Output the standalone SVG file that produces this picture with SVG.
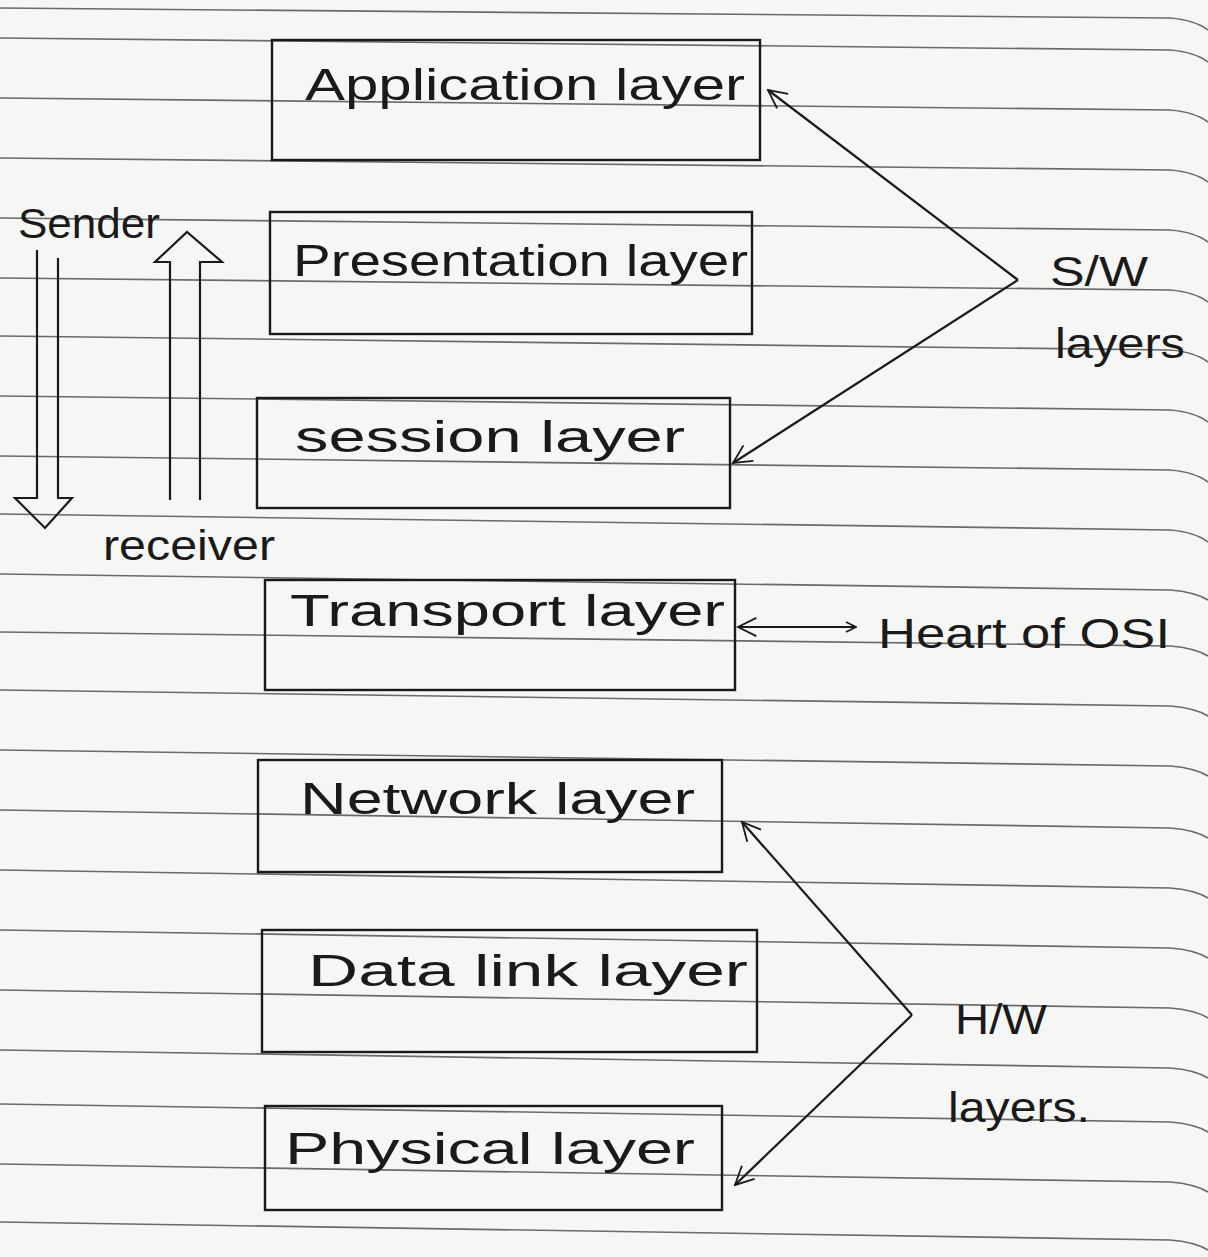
<svg xmlns="http://www.w3.org/2000/svg" width="1208" height="1257" viewBox="0 0 1208 1257">
<style>
.rule{fill:none;stroke:#6a6a6a;stroke-width:1.6}
.box{fill:none;stroke:#1a1a1a;stroke-width:2.4}
.lbl{font-family:"Liberation Sans",Arial,sans-serif;font-size:44px;fill:#1a1a1a}
.note{font-family:"Liberation Sans",Arial,sans-serif;font-size:42px;fill:#1a1a1a}
.conn{fill:none;stroke:#1a1a1a;stroke-width:2.2}
.big{fill:none;stroke:#1a1a1a;stroke-width:2.2;stroke-linejoin:miter}
</style>
<defs>
<marker id="ah" viewBox="0 0 12 12" refX="11" refY="6" markerWidth="12" markerHeight="12" markerUnits="userSpaceOnUse" orient="auto-start-reverse">
<path d="M1,1 L11,6 L1,11" fill="none" stroke="#1a1a1a" stroke-width="1.6"/>
</marker>
<marker id="ahb" viewBox="0 0 12 12" refX="11" refY="6" markerWidth="22" markerHeight="22" markerUnits="userSpaceOnUse" orient="auto-start-reverse">
<path d="M1,1 L11,6 L1,11" fill="none" stroke="#1a1a1a" stroke-width="1"/>
</marker>
</defs>
<rect width="1208" height="1257" fill="#f6f6f4"/>
<g id="paper">
<path class="rule" d="M0,8 L1170,18 Q1195,20 1208,30"/>
<path class="rule" d="M0,38 L1170,50 Q1195,52 1208,62"/>
<path class="rule" d="M0,98 L1170,110 Q1195,112 1208,122"/>
<path class="rule" d="M0,158 L1170,170 Q1195,172 1208,182"/>
<path class="rule" d="M0,218 L1170,230 Q1195,232 1208,242"/>
<path class="rule" d="M0,278 L1170,290 Q1195,292 1208,302"/>
<path class="rule" d="M0,336 L1170,350 Q1195,352 1208,362"/>
<path class="rule" d="M0,396 L1170,410 Q1195,412 1208,422"/>
<path class="rule" d="M0,456 L1170,470 Q1195,472 1208,482"/>
<path class="rule" d="M0,514 L1170,530 Q1195,532 1208,542"/>
<path class="rule" d="M0,574 L1170,590 Q1195,592 1208,600"/>
<path class="rule" d="M0,632 L1170,646 Q1195,648 1208,656"/>
<path class="rule" d="M0,690 L1170,706 Q1195,708 1208,716"/>
<path class="rule" d="M0,750 L1170,766 Q1195,768 1208,776"/>
<path class="rule" d="M0,810 L1170,828 Q1195,830 1208,838"/>
<path class="rule" d="M0,870 L1170,888 Q1195,890 1208,898"/>
<path class="rule" d="M0,930 L1170,948 Q1195,950 1208,958"/>
<path class="rule" d="M0,990 L1170,1008 Q1195,1010 1208,1018"/>
<path class="rule" d="M0,1050 L1170,1068 Q1195,1070 1208,1078"/>
<path class="rule" d="M0,1104 L1170,1122 Q1195,1124 1208,1132"/>
<path class="rule" d="M0,1164 L1170,1182 Q1195,1184 1208,1192"/>
<path class="rule" d="M0,1222 L1170,1240 Q1195,1242 1208,1250"/>
</g>
<g id="application">
<rect class="box" x="272" y="40" width="488" height="120"/>
<text class="lbl" x="305" y="100" textLength="440" lengthAdjust="spacingAndGlyphs">Application layer</text>
</g>
<g id="presentation">
<rect class="box" x="270" y="212" width="482" height="122"/>
<text class="lbl" x="293" y="276" textLength="455" lengthAdjust="spacingAndGlyphs">Presentation layer</text>
</g>
<g id="session">
<rect class="box" x="257" y="398" width="473" height="110"/>
<text class="lbl" x="295" y="452" textLength="390" lengthAdjust="spacingAndGlyphs">session layer</text>
</g>
<g id="transport">
<rect class="box" x="265" y="580" width="470" height="110"/>
<text class="lbl" x="290" y="626" textLength="435" lengthAdjust="spacingAndGlyphs">Transport layer</text>
</g>
<g id="network">
<rect class="box" x="258" y="760" width="464" height="112"/>
<text class="lbl" x="300" y="814" textLength="395" lengthAdjust="spacingAndGlyphs">Network layer</text>
</g>
<g id="datalink">
<rect class="box" x="262" y="930" width="495" height="122"/>
<text class="lbl" x="308" y="986" textLength="440" lengthAdjust="spacingAndGlyphs">Data link layer</text>
</g>
<g id="physical">
<rect class="box" x="265" y="1106" width="457" height="104"/>
<text class="lbl" x="285" y="1164" textLength="410" lengthAdjust="spacingAndGlyphs">Physical layer</text>
</g>
<g id="sender">
<text class="note" x="18" y="238" font-size="38" textLength="142" lengthAdjust="spacingAndGlyphs">Sender</text>
</g>
<g id="receiver">
<text class="note" x="103" y="560" font-size="38" textLength="172" lengthAdjust="spacingAndGlyphs">receiver</text>
</g>
<g id="sw-label">
<text class="note" x="1050" y="286" textLength="98" lengthAdjust="spacingAndGlyphs">S/W</text>
<text class="note" x="1055" y="358" textLength="130" lengthAdjust="spacingAndGlyphs">layers</text>
</g>
<g id="heart-label">
<text class="note" x="878" y="648" textLength="292" lengthAdjust="spacingAndGlyphs">Heart of OSI</text>
</g>
<g id="hw-label">
<text class="note" x="955" y="1034" textLength="92" lengthAdjust="spacingAndGlyphs">H/W</text>
<text class="note" x="948" y="1122" textLength="142" lengthAdjust="spacingAndGlyphs">layers.</text>
</g>
<g id="connectors">
<path class="big" d="M37,250 L37,498 L15,498 L45,528 L72,498 L58,498 L58,258"/>
<path class="big" d="M170,500 L170,262 L155,262 L187,232 L222,262 L200,262 L200,500"/>
<line class="conn" x1="1018" y1="280" x2="768" y2="90" marker-end="url(#ahb)"/>
<line class="conn" x1="1018" y1="280" x2="733" y2="463" marker-end="url(#ahb)"/>
<line class="conn" x1="738" y1="627" x2="856" y2="627" marker-start="url(#ahb)" marker-end="url(#ah)"/>
<line class="conn" x1="912" y1="1015" x2="742" y2="822" marker-end="url(#ahb)"/>
<line class="conn" x1="912" y1="1015" x2="735" y2="1185" marker-end="url(#ahb)"/>
</g>
</svg>
